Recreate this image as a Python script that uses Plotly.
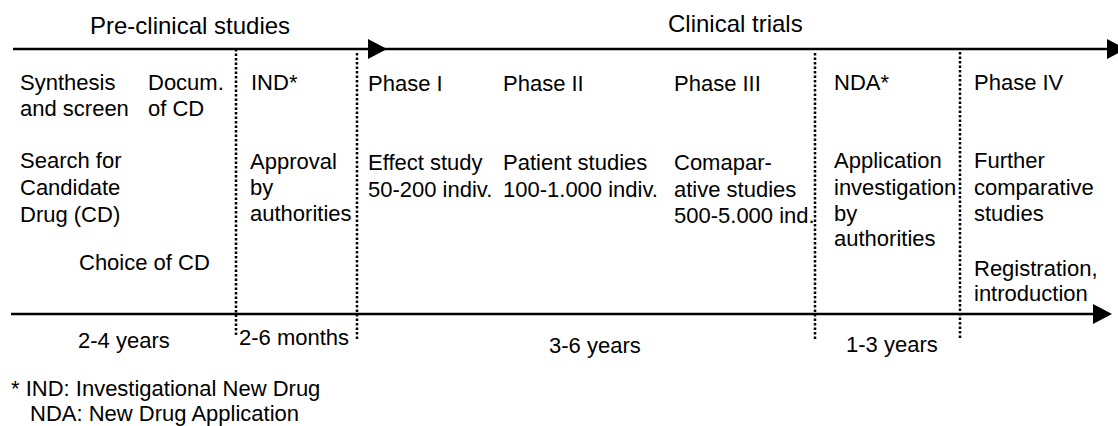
import plotly.graph_objects as go

W, H = 1118, 426
FONT = "Arial, Liberation Sans, sans-serif"

# ---- timeline arrows ----
arrow_y = [49, 314]
arrow_x0 = [13, 11]
arrow_tip = [1126, 1112]
mid_tip_x = [387]          # intermediate arrowhead on the top timeline
head_len, head_half = 19, 10

# ---- dotted separators ----
sep_x = [236, 357, 815, 960]
sep_top = [49, 53, 53, 52]
sep_bottom = [335, 340, 341, 339]

# ---- headings ----
headings = ["Pre-clinical studies", "Clinical trials"]
heading_x = [190, 735]
heading_y = [25, 23]

# ---- body text (one entry per printed line) ----
labels = ["Synthesis", "and screen", "Docum.", "of CD",
          "Search for", "Candidate", "Drug (CD)", "Choice of CD",
          "IND*", "Approval", "by", "authorities",
          "Phase I", "Effect study", "50-200 indiv.",
          "Phase II", "Patient studies", "100-1.000 indiv.",
          "Phase III", "Comapar-", "ative studies", "500-5.000 ind.",
          "NDA*", "Application", "investigation", "by", "authorities",
          "Phase IV", "Further", "comparative", "studies", "Registration,", "introduction"]
label_x = [18, 18, 146, 146,
           18, 18, 18, 77,
           249, 248, 248, 248,
           366, 366, 366,
           501, 501, 501,
           672, 672, 672, 672,
           832, 832, 832, 832, 832,
           972, 972, 972, 972, 972, 972]
label_y = [82, 108, 82, 108,
           160, 187, 214, 262,
           82, 161, 187, 213,
           83, 162, 189,
           83, 162, 189,
           83, 162, 189, 215,
           82, 160, 187, 213, 238,
           82, 160, 187, 213, 268, 293]

# ---- durations under the bottom timeline ----
durations = ["2-4 years", "2-6 months", "3-6 years", "1-3 years"]
dur_x = [124, 237, 595, 892]
dur_anchor = ["center", "left", "center", "center"]
dur_y = [340, 337, 345, 344]

# ---- footnotes ----
footnotes = ["* IND: Investigational New Drug", "NDA: New Drug Application"]
foot_x = [9, 28]
foot_y = [388, 413]

fig = go.Figure()
fig.add_trace(go.Scatter(x=[0, W], y=[0, H], mode="markers",
                         marker=dict(opacity=0), hoverinfo="skip", showlegend=False))

shapes = []
for y, x0, tip in zip(arrow_y, arrow_x0, arrow_tip):
    shapes.append(dict(type="line", xref="x", yref="y", x0=x0, x1=tip - head_len + 1,
                       y0=y, y1=y, line=dict(color="black", width=2.5)))
    shapes.append(dict(type="path", xref="x", yref="y",
                       path=f"M{tip - head_len},{y - head_half} L{tip},{y} L{tip - head_len},{y + head_half} Z",
                       fillcolor="black", line=dict(color="black", width=0)))
for tip in mid_tip_x:
    y = arrow_y[0]
    shapes.append(dict(type="path", xref="x", yref="y",
                       path=f"M{tip - head_len},{y - head_half} L{tip},{y} L{tip - head_len},{y + head_half} Z",
                       fillcolor="black", line=dict(color="black", width=0)))
for x, y0, y1 in zip(sep_x, sep_top, sep_bottom):
    shapes.append(dict(type="line", xref="x", yref="y", x0=x, x1=x, y0=y0, y1=y1,
                       line=dict(color="black", width=2.5, dash="2.5px,2px")))

ann = []
for t, x, y in zip(headings, heading_x, heading_y):
    ann.append(dict(text=t, x=x, y=y, xref="x", yref="y", showarrow=False,
                    xanchor="center", yanchor="middle", font=dict(size=24, color="black", family=FONT)))
for t, x, y in zip(labels, label_x, label_y):
    ann.append(dict(text=t, x=x, y=y, xref="x", yref="y", showarrow=False,
                    xanchor="left", yanchor="middle", font=dict(size=22, color="black", family=FONT)))
for t, x, y, a in zip(durations, dur_x, dur_y, dur_anchor):
    ann.append(dict(text=t, x=x, y=y, xref="x", yref="y", showarrow=False,
                    xanchor=a, yanchor="middle", font=dict(size=22, color="black", family=FONT)))
for t, x, y in zip(footnotes, foot_x, foot_y):
    ann.append(dict(text=t, x=x, y=y, xref="x", yref="y", showarrow=False,
                    xanchor="left", yanchor="middle", font=dict(size=22, color="black", family=FONT)))

fig.update_layout(
    width=W, height=H, margin=dict(l=0, r=0, t=0, b=0),
    paper_bgcolor="white", plot_bgcolor="white",
    xaxis=dict(range=[0, W], visible=False, fixedrange=True),
    yaxis=dict(range=[H, 0], visible=False, fixedrange=True),
    shapes=shapes, annotations=ann, showlegend=False,
)
fig.write_html("out.html", config={"displayModeBar": False},
               post_script="document.body.style.margin='0px';document.body.style.overflow='hidden';")
